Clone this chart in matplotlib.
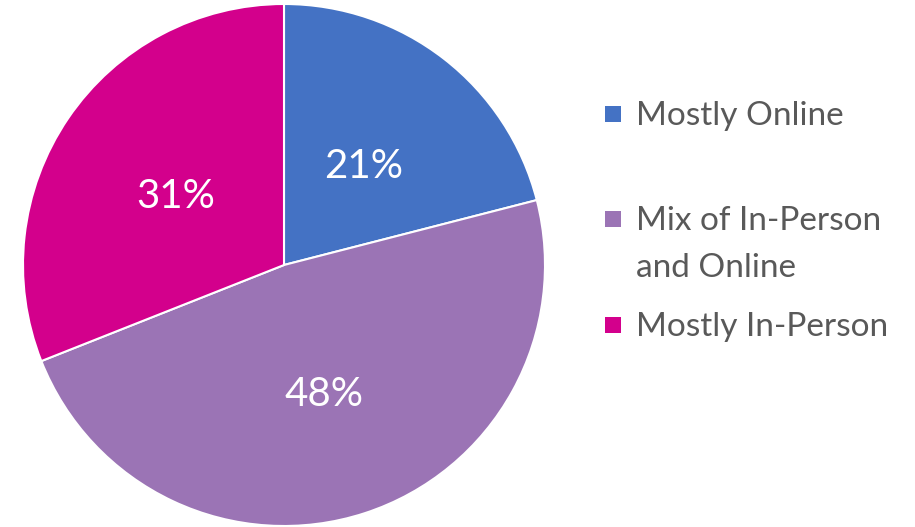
import matplotlib
matplotlib.use("Agg")
import matplotlib.pyplot as plt
from matplotlib.patches import Rectangle
from matplotlib.transforms import offset_copy

categories = ["Mostly Online", "Mix of In-Person\nand Online", "Mostly In-Person"]
shares = [21, 48, 31]
colors = ["#4472C4", "#9B74B5", "#D3008C"]

W, H = 915, 527
fig = plt.figure(figsize=(W / 100, H / 100), dpi=100)
plt.rcParams["font.family"] = ["Lato", "DejaVu Sans"]

# pie area in pixels: centre (284, 265), radius 261
cx, cy, r = 284, 265, 261
ax = fig.add_axes([(cx - r) / W, (H - cy - r) / H, 2 * r / W, 2 * r / H])
wedges, texts, autotexts = ax.pie(
    shares, colors=colors, startangle=90, counterclock=False, radius=1,
    autopct=lambda p: f"{p:.0f}%", pctdistance=0.5,
    wedgeprops=dict(edgecolor="white", linewidth=1.5),
    textprops=dict(color="white", fontsize=29),
)
# nudge the percentage labels down a little so the digits sit centred
for t in autotexts:
    t.set_transform(offset_copy(ax.transData, fig=fig, x=0, y=-5, units="dots"))
ax.set_xlim(-1, 1)
ax.set_ylim(-1, 1)
ax.set_aspect("equal")
ax.axis("off")

# legend drawn in figure pixel coordinates
baselines = [125, 230, 336]
line_gap = 47
sq = 16
for label, col, base in zip(categories, colors, baselines):
    lines = label.split("\n")
    fig.patches.append(Rectangle((605 / W, (H - base + 3) / H), sq / W, sq / H,
                                 transform=fig.transFigure, facecolor=col,
                                 edgecolor="none"))
    for i, line in enumerate(lines):
        fig.text(636 / W, (H - base - i * line_gap) / H, line, fontsize=24,
                 color="#595959", ha="left", va="baseline")

fig.savefig("out.png", dpi=100, facecolor="white")
